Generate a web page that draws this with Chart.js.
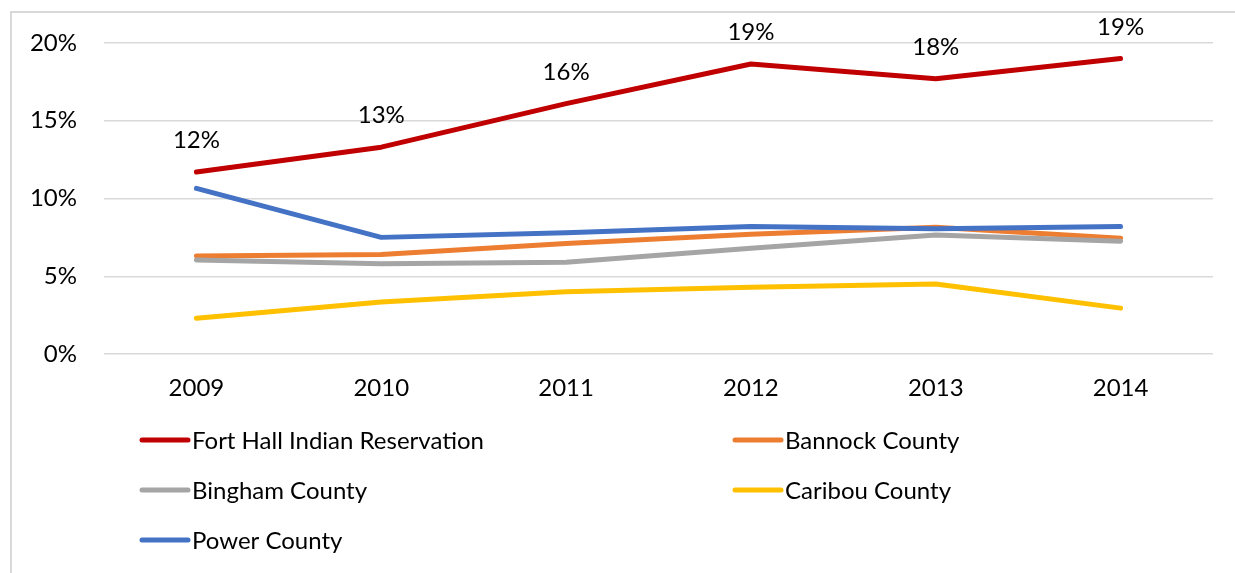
<!DOCTYPE html>
<html>
<head>
<meta charset="utf-8">
<script src="https://cdn.jsdelivr.net/npm/chart.js@4"></script>
<style>
  html, body { margin: 0; padding: 0; background: #fff; }
  #wrap { width: 1235px; height: 573px; position: relative; }
</style>
</head>
<body>
<div id="wrap"><canvas id="grafico" width="1235" height="573"></canvas></div>
<script>
const anos = ['2009', '2010', '2011', '2012', '2013', '2014'];
const fortHall = [11.7, 13.3, 16.1, 18.65, 17.7, 19.0];
const bannock = [6.3, 6.4, 7.1, 7.7, 8.15, 7.45];
const bingham = [6.05, 5.8, 5.9, 6.8, 7.65, 7.25];
const caribou = [2.3, 3.35, 4.0, 4.3, 4.5, 2.95];
const power = [10.65, 7.5, 7.8, 8.2, 8.05, 8.2];
const yTicks = [0, 5, 10, 15, 20];

const fonte = 'Lato, "Open Sans", sans-serif';

function serie(nome, valores, cor, ordem) {
    return {
        label: nome,
        data: valores,
        borderColor: cor,
        backgroundColor: cor,
        borderWidth: 5,
        borderCapStyle: 'round',
        borderJoinStyle: 'round',
        pointRadius: 0,
        tension: 0,
        order: ordem
    };
}

// moldura cinza do gráfico
const moldura = {
    id: 'moldura',
    beforeDraw(chart) {
        const c = chart.ctx;
        c.save();
        c.strokeStyle = '#d9d9d9';
        c.lineWidth = 2;
        c.strokeRect(11, 12, 1400, 800);
        c.restore();
    }
};

// rótulos só da primeira série
const rotulos = {
    id: 'rotulos',
    afterDatasetsDraw(chart) {
        const c = chart.ctx;
        const meta = chart.getDatasetMeta(0);
        c.save();
        c.font = '24px ' + fonte;
        c.fillStyle = '#000';
        c.textAlign = 'center';
        c.textBaseline = 'alphabetic';
        meta.data.forEach(function (p, i) {
            c.fillText(Math.round(fortHall[i]) + '%', p.x, p.y - 24);
        });
        c.restore();
    }
};

// legenda em duas colunas
const legenda = {
    id: 'legenda',
    afterDraw(chart) {
        const c = chart.ctx;
        const colX = [140, 733];
        const linhaY = [440, 490, 540];
        c.save();
        c.font = '24px ' + fonte;
        c.textBaseline = 'middle';
        c.lineCap = 'round';
        chart.data.datasets.forEach(function (ds, i) {
            const x = colX[i % 2];
            const y = linhaY[Math.floor(i / 2)];
            c.strokeStyle = ds.borderColor;
            c.lineWidth = 5;
            c.beginPath();
            c.moveTo(x + 2, y);
            c.lineTo(x + 48, y);
            c.stroke();
            c.fillStyle = '#000';
            c.fillText(ds.label, x + 52, y + 1);
        });
        c.restore();
    }
};

new Chart(document.getElementById('grafico'), {
    type: 'line',
    data: {
        labels: anos,
        datasets: [
            serie('Fort Hall Indian Reservation', fortHall, '#C00000', 5),
            serie('Bannock County', bannock, '#ED7D31', 4),
            serie('Bingham County', bingham, '#A5A5A5', 3),
            serie('Caribou County', caribou, '#FFC000', 2),
            serie('Power County', power, '#4472C4', 1)
        ]
    },
    options: {
        responsive: false,
        animation: false,
        layout: { padding: { left: 0, top: 43, right: 22, bottom: 159 } },
        plugins: {
            legend: { display: false },
            tooltip: { enabled: false }
        },
        scales: {
            x: {
                offset: true,
                grid: { display: false, drawTicks: false },
                border: { display: false },
                ticks: { color: '#000', font: { family: fonte, size: 24 }, padding: 20, maxRotation: 0 },
                afterFit(scale) { scale.height = 60; }
            },
            y: {
                min: 0,
                max: 20,
                afterBuildTicks(scale) { scale.ticks = yTicks.map(v => ({ value: v })); },
                grid: { color: '#d9d9d9', lineWidth: 1.5, drawTicks: false },
                border: { display: false },
                ticks: {
                    color: '#000',
                    font: { family: fonte, size: 24 },
                    padding: 27,
                    callback: v => v + '%'
                },
                afterFit(scale) { scale.width = 104; }
            }
        }
    },
    plugins: [moldura, rotulos, legenda]
});
</script>
</body>
</html>
